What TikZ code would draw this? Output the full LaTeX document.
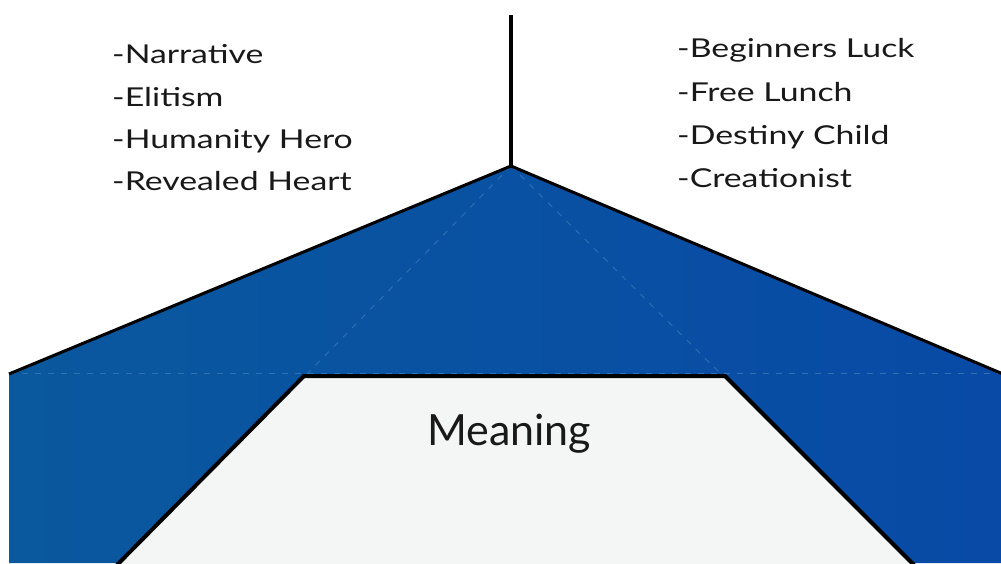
\documentclass[tikz,border=0pt]{standalone}
\usepackage{fontspec}
\setmainfont{Lato}
\newfontfamily\listfont[FakeStretch=1.3]{Lato}
\definecolor{bandblueL}{RGB}{10,88,158}
\definecolor{bandblueR}{RGB}{8,74,166}
\definecolor{guide}{RGB}{50,112,180}
\definecolor{innerfill}{RGB}{244,246,246}
\definecolor{textgray}{RGB}{25,25,25}
\tikzset{
  listitem/.style={anchor=base west, inner sep=0pt, font=\listfont\fontsize{26}{26}\selectfont, text=textgray},
  outline/.style={draw=black, line width=3pt, line join=round},
  guideline/.style={draw=guide, line width=0.9pt, dash pattern=on 6pt off 7pt},
}
\begin{document}
\begin{tikzpicture}[x=1pt,y=-1pt]
\useasboundingbox (0,0) rectangle (1001,563);
\fill[white] (0,0) rectangle (1001,563);
% named points
\coordinate (apex) at (511,166);
\coordinate (lefttop) at (9,374);
\coordinate (righttop) at (1003,374);
\coordinate (leftbot) at (9,563);
\coordinate (rightbot) at (1003,563);
\coordinate (linetop) at (511,15);
\coordinate (ia) at (117,565);
\coordinate (ib) at (304,376);
\coordinate (ic) at (725,376);
\coordinate (id) at (914,565);
% blue band
\shade[left color=bandblueL, right color=bandblueR] (leftbot) -- (lefttop) -- (apex) -- (righttop) -- (rightbot) -- cycle;
% faint guide lines
\draw[guideline] (9,373) -- (1001,373);
\draw[guideline] (apex) -- (306,375);
\draw[guideline] (apex) -- (722,375);
% outline of band
\draw[outline] (lefttop) -- (apex) -- (righttop);
% vertical line
\draw[black, line width=3.5pt] (linetop) -- (apex);
% inner trapezoid
\filldraw[fill=innerfill, draw=black, line width=4pt, line join=miter] (ia) -- (ib) -- (ic) -- (id);
% texts
\node[listitem] (l1) at (112,63) {-Narrative};
\node[listitem] (l2) at (112,106) {-Elitism};
\node[listitem] (l3) at (112,148) {-Humanity Hero};
\node[listitem] (l4) at (112,190) {-Revealed Heart};
\node[listitem] (r1) at (677,57) {-Beginners Luck};
\node[listitem] (r2) at (677,101) {-Free Lunch};
\node[listitem] (r3) at (677,144) {-Destiny Child};
\node[listitem] (r4) at (677,187) {-Creationist};
\node[anchor=base west, inner sep=0pt, font=\fontsize{43}{43}\selectfont, text=textgray] (m) at (427,445) {Meaning};
\end{tikzpicture}
\end{document}
